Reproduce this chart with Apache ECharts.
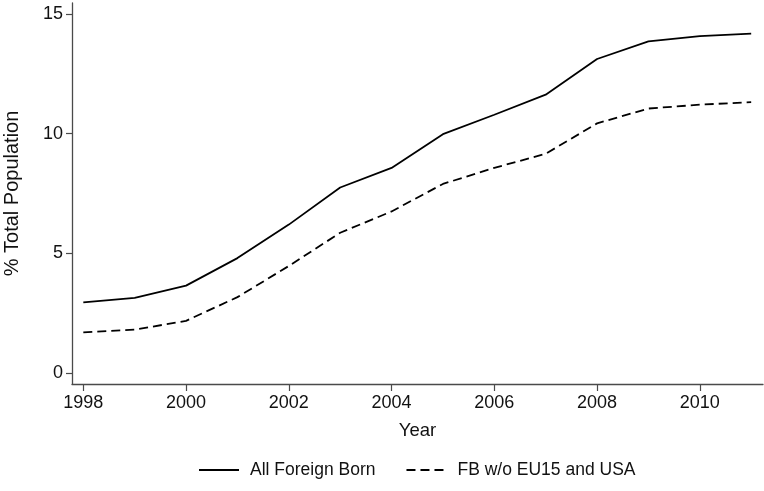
<!DOCTYPE html>
<html>
<head>
<meta charset="utf-8">
<script src="https://cdn.jsdelivr.net/npm/echarts@6/dist/echarts.min.js"></script>
<style>
  html, body { margin: 0; padding: 0; background: #fff; }
  #chart { width: 764px; height: 491px; }
</style>
</head>
<body>
<div id="chart"></div>
<script>
// Foreign-born share of the total population, by year
const years = [1998, 1999, 2000, 2001, 2002, 2003, 2004, 2005, 2006, 2007, 2008, 2009, 2010, 2011];
const allForeignBorn = [2.95, 3.14, 3.65, 4.80, 6.20, 7.75, 8.57, 9.98, 10.79, 11.63, 13.12, 13.86, 14.08, 14.18];
const fbNoEu15Usa = [1.70, 1.81, 2.18, 3.17, 4.47, 5.86, 6.75, 7.90, 8.57, 9.16, 10.43, 11.05, 11.21, 11.32];
const xTicks = [1998, 2000, 2002, 2004, 2006, 2008, 2010];
const yTicks = [0, 5, 10, 15];

const FONT = 'Liberation Sans, Arial, Helvetica, sans-serif';
const AXIS_COLOR = '#4a4a4a';
const plain = v => String(v);

const chart = echarts.init(document.getElementById('chart'), null, { renderer: 'canvas' });

chart.setOption({
  animation: false,
  backgroundColor: '#ffffff',
  grid: { left: 72, right: 1, top: 3, bottom: 107, containLabel: false, outerBoundsMode: 'none' },
  legend: {
    left: 193,
    top: 456,
    itemWidth: 40,
    itemHeight: 14,
    itemGap: 30,
    itemStyle: { opacity: 0 },
    textStyle: { fontFamily: FONT, fontSize: 17.5, color: '#111', padding: [0, 0, 0, 6] },
    data: ['All Foreign Born', 'FB w/o EU15 and USA']
  },
  xAxis: {
    type: 'value',
    min: 1997.78,
    max: 2011.23,
    name: 'Year',
    nameLocation: 'middle',
    nameGap: 37,
    nameTextStyle: { fontFamily: FONT, fontSize: 18.5, color: '#111' },
    axisLine: { show: true, onZero: false, lineStyle: { color: AXIS_COLOR, width: 1.3 } },
    axisTick: { show: true, length: 7, customValues: xTicks, lineStyle: { color: AXIS_COLOR, width: 1.2 } },
    axisLabel: { customValues: xTicks, formatter: plain, margin: 10, fontFamily: FONT, fontSize: 18, color: '#111' },
    splitLine: { show: false }
  },
  yAxis: {
    type: 'value',
    min: -0.46,
    max: 15.46,
    name: '% Total Population',
    nameLocation: 'middle',
    nameRotate: 90,
    nameGap: 50,
    nameTextStyle: { fontFamily: FONT, fontSize: 20, color: '#111' },
    axisLine: { show: true, onZero: false, lineStyle: { color: AXIS_COLOR, width: 1.3 } },
    axisTick: { show: true, length: 6, customValues: yTicks, lineStyle: { color: AXIS_COLOR, width: 1.2 } },
    axisLabel: { customValues: yTicks, formatter: plain, margin: 9, fontFamily: FONT, fontSize: 18, color: '#111' },
    splitLine: { show: false }
  },
  series: [
    {
      name: 'All Foreign Born',
      type: 'line',
      symbol: 'none',
      data: years.map((y, i) => [y, allForeignBorn[i]]),
      lineStyle: { color: '#000', width: 1.8, type: 'solid' },
      itemStyle: { color: '#000' }
    },
    {
      name: 'FB w/o EU15 and USA',
      type: 'line',
      symbol: 'none',
      data: years.map((y, i) => [y, fbNoEu15Usa[i]]),
      lineStyle: { color: '#000', width: 1.8, type: [9, 5] },
      itemStyle: { color: '#000' }
    }
  ]
});
</script>
</body>
</html>
